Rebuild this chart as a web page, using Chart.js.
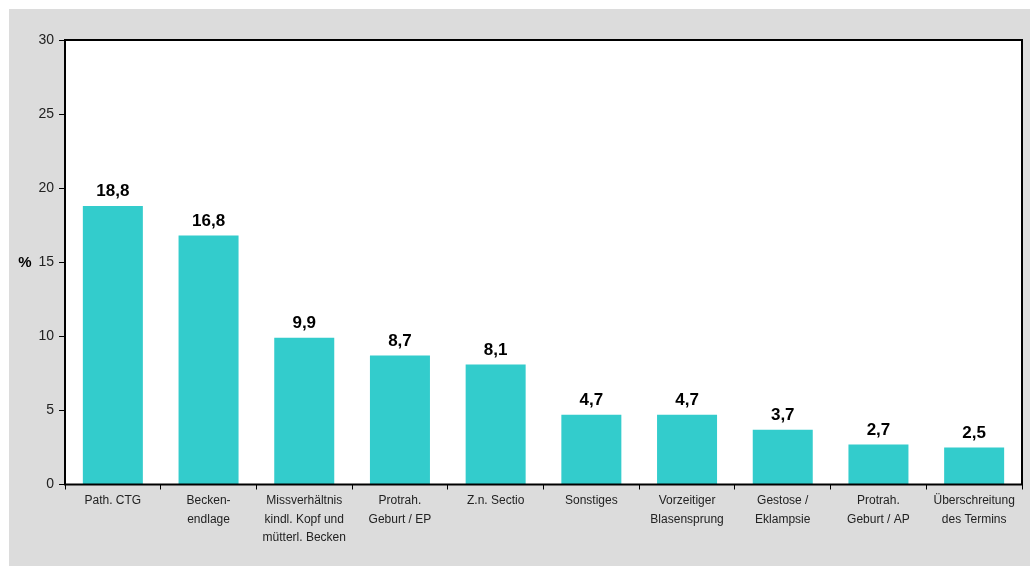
<!DOCTYPE html>
<html>
<head>
<meta charset="utf-8">
<script src="https://cdn.jsdelivr.net/npm/chart.js@4/dist/chart.umd.min.js"></script>
<style>
  html, body { margin: 0; padding: 0; background: #ffffff; }
  #wrap { position: absolute; left: 9px; top: 9px; width: 1021px; height: 557px; background: #dcdcdc; }
  canvas { display: block; }
</style>
</head>
<body>
<div id="wrap"><canvas id="c" width="1021" height="557"></canvas></div>
<script>
// Kaiserschnitt-Indikationen in Prozent
const categories = [
  ['Path. CTG'],
  ['Becken-', 'endlage'],
  ['Missverhältnis', 'kindl. Kopf und', 'mütterl. Becken'],
  ['Protrah.', 'Geburt / EP'],
  ['Z.n. Sectio'],
  ['Sonstiges'],
  ['Vorzeitiger', 'Blasensprung'],
  ['Gestose /', 'Eklampsie'],
  ['Protrah.', 'Geburt / AP'],
  ['Überschreitung', 'des Termins']
];
const values = [18.8, 16.8, 9.9, 8.7, 8.1, 4.7, 4.7, 3.7, 2.7, 2.5];
const yTicks = [0, 5, 10, 15, 20, 25, 30];
const yAxisLabel = '%';

const FONT = '"Liberation Sans", Arial, Helvetica, sans-serif';

// white plot area with black frame
const plotFrame = {
  id: 'plotFrame',
  beforeDraw(chart) {
    const { ctx, chartArea: a } = chart;
    ctx.save();
    ctx.fillStyle = '#ffffff';
    ctx.fillRect(a.left, a.top, a.right - a.left, a.bottom - a.top);
    ctx.restore();
  },
  afterDraw(chart) {
    const { ctx, chartArea: a } = chart;
    ctx.save();
    ctx.strokeStyle = '#000000';
    ctx.lineWidth = 2;
    ctx.strokeRect(a.left, a.top, a.right - a.left, a.bottom - a.top);
    ctx.restore();
  }
};

// value above each bar, and the horizontal unit label
const valueLabels = {
  id: 'valueLabels',
  afterDatasetsDraw(chart) {
    const { ctx } = chart;
    const meta = chart.getDatasetMeta(0);
    ctx.save();
    ctx.fillStyle = '#000000';
    ctx.font = 'bold 17px ' + FONT;
    ctx.textAlign = 'center';
    ctx.textBaseline = 'bottom';
    meta.data.forEach((bar, i) => {
      const v = chart.data.datasets[0].data[i];
      ctx.fillText(v.toFixed(1).replace('.', ','), bar.x, bar.y - 6);
    });
    const y = chart.scales.y.getPixelForValue(15);
    ctx.font = 'bold 15px ' + FONT;
    ctx.textAlign = 'center';
    ctx.textBaseline = 'middle';
    ctx.fillText(yAxisLabel, 16, y + 1);
    ctx.restore();
  }
};

new Chart(document.getElementById('c'), {
  type: 'bar',
  data: {
    labels: categories,
    datasets: [{
      data: values,
      backgroundColor: '#33cccc',
      borderWidth: 0,
      categoryPercentage: 1,
      barPercentage: 0.627
    }]
  },
  options: {
    responsive: false,
    animation: false,
    layout: { padding: { left: 0, top: 31, right: 8, bottom: 0 } },
    plugins: { legend: { display: false }, tooltip: { enabled: false } },
    scales: {
      x: {
        grid: { display: true, drawOnChartArea: false, drawTicks: true, tickLength: 5, color: '#000000', lineWidth: 1, offset: true },
        border: { display: false },
        ticks: { color: '#222222', font: { family: FONT, size: 12, lineHeight: 1.55 }, padding: 2, maxRotation: 0, autoSkip: false },
        afterFit(scale) { scale.height = 81.5; }
      },
      y: {
        min: 0,
        max: 30,
        afterBuildTicks(scale) { scale.ticks = yTicks.map(v => ({ value: v })); },
        grid: { display: true, drawOnChartArea: false, drawTicks: true, tickLength: 6, color: '#000000', lineWidth: 1 },
        border: { display: false },
        ticks: { color: '#222222', font: { family: FONT, size: 14 }, padding: 5 },
        afterFit(scale) { scale.width = 56; }
      }
    }
  },
  plugins: [plotFrame, valueLabels]
});
</script>
</body>
</html>
